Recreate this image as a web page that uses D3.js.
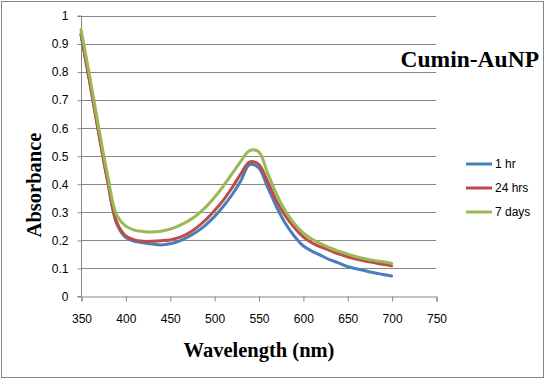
<!DOCTYPE html>
<html>
<head>
<meta charset="UTF-8">
<title>Cumin-AuNP</title>
<script src="https://d3js.org/d3.v7.min.js"></script>
<style>
  body { margin: 0; background: #fff; }
</style>
</head>
<body>
<div id="chart"></div>
<script>
// wavelengths (nm)
const wavelength = [350,360,370,380,390,400,410,420,430,440,450,460,470,480,490,500,510,520,530,540,550,560,570,580,590,600,610,620,630,640,650,660,670,680,690,700];

// absorbance per series
const hr1 = [0.93,0.76,0.58,0.41,0.26,0.21,0.195,0.19,0.185,0.182,0.186,0.195,0.21,0.228,0.252,0.282,0.318,0.36,0.41,0.468,0.458,0.39,0.32,0.26,0.215,0.18,0.16,0.145,0.13,0.118,0.105,0.097,0.09,0.083,0.077,0.071];
const hrs24 = [0.935,0.76,0.58,0.41,0.265,0.215,0.2,0.195,0.195,0.197,0.2,0.208,0.222,0.243,0.27,0.303,0.34,0.385,0.435,0.478,0.47,0.41,0.34,0.287,0.245,0.212,0.19,0.175,0.163,0.15,0.14,0.132,0.125,0.119,0.113,0.108];
const days7 = [0.95,0.78,0.6,0.43,0.29,0.25,0.235,0.23,0.228,0.231,0.238,0.25,0.266,0.287,0.315,0.35,0.39,0.435,0.48,0.518,0.515,0.44,0.365,0.305,0.26,0.226,0.203,0.187,0.172,0.16,0.15,0.14,0.133,0.127,0.122,0.117];

const seriesNames = ["1 hr", "24 hrs", "7 days"];
const seriesColors = ["#4a7ebb", "#be4b48", "#98b954"];
const seriesValues = [hr1, hrs24, days7];

const xTicks = [350,400,450,500,550,600,650,700,750];
const yTicks = [0,0.1,0.2,0.3,0.4,0.5,0.6,0.7,0.8,0.9,1];

const W = 545, H = 379;
const svg = d3.select('#chart').append('svg').attr('width', W).attr('height', H);

svg.append('rect').attr('x', 1.5).attr('y', 1.5).attr('width', W - 3).attr('height', H - 3)
  .attr('fill', '#fff').attr('stroke', '#868686');

const plotL = 81, plotR = 436, plotT = 15.5, plotB = 296;
const x = d3.scaleLinear().domain([350, 750]).range([plotL, plotR]);
const y = d3.scaleLinear().domain([0, 1]).range([plotB, plotT]);

// gridlines
svg.append('g').selectAll('line').data(yTicks.slice(1)).enter().append('line')
  .attr('x1', plotL).attr('x2', plotR)
  .attr('y1', d => Math.round(y(d)) + 0.5).attr('y2', d => Math.round(y(d)) + 0.5)
  .attr('stroke', '#868686').attr('stroke-width', 1);

// y axis
const yAxis = svg.append('g').attr('transform', `translate(${plotL + 0.5},0.5)`)
  .call(d3.axisLeft(y).tickValues(yTicks).tickSize(4).tickPadding(9).tickFormat(d => d3.format('')(+d.toFixed(1))));
// x axis
const xAxis = svg.append('g').attr('transform', `translate(0.5,${plotB + 0.5})`)
  .call(d3.axisBottom(x).tickValues(xTicks).tickSize(5).tickPadding(13).tickFormat(d3.format('d')));

[yAxis, xAxis].forEach(g => {
  g.select('.domain').attr('stroke', '#868686');
  g.selectAll('.tick line').attr('stroke', '#868686');
  g.selectAll('.tick text').attr('fill', '#000')
    .style('font-family', '"Liberation Sans", Arial, sans-serif').style('font-size', '12px');
});
yAxis.select('.domain').attr('d', `M-4,${y(0)}H0V${y(1)}H-4`);

// lines
const line = d3.line().x((d, i) => x(wavelength[i])).y(d => y(d)).curve(d3.curveCatmullRom.alpha(0.5));
svg.append('g').selectAll('path').data(seriesValues).enter().append('path')
  .attr('d', d => line(d)).attr('fill', 'none')
  .attr('stroke', (d, i) => seriesColors[i]).attr('stroke-width', 3)
  .attr('stroke-linejoin', 'round').attr('stroke-linecap', 'round');

// legend
const legend = svg.append('g').selectAll('g').data(seriesNames).enter().append('g')
  .attr('transform', (d, i) => `translate(466,${164 + i * 24})`);
legend.append('line').attr('x1', 0).attr('x2', 26).attr('y1', 0).attr('y2', 0)
  .attr('stroke', (d, i) => seriesColors[i]).attr('stroke-width', 3);
legend.append('text').attr('x', 29).attr('y', 4).text(d => d)
  .style('font-family', '"Liberation Sans", Arial, sans-serif').style('font-size', '12px');

// titles
svg.append('text').attr('x', 539).attr('y', 67).attr('text-anchor', 'end')
  .style('font-family', '"Liberation Serif", "Times New Roman", serif').style('font-weight', 'bold').style('font-size', '23.5px')
  .text('Cumin-AuNP');
svg.append('text').attr('x', 259).attr('y', 357).attr('text-anchor', 'middle')
  .style('font-family', '"Liberation Serif", "Times New Roman", serif').style('font-weight', 'bold').style('font-size', '20.5px')
  .text('Wavelength (nm)');
svg.append('text').attr('transform', 'translate(41,185) rotate(-90)').attr('text-anchor', 'middle')
  .style('font-family', '"Liberation Serif", "Times New Roman", serif').style('font-weight', 'bold').style('font-size', '20.5px')
  .text('Absorbance');
</script>
</body>
</html>
